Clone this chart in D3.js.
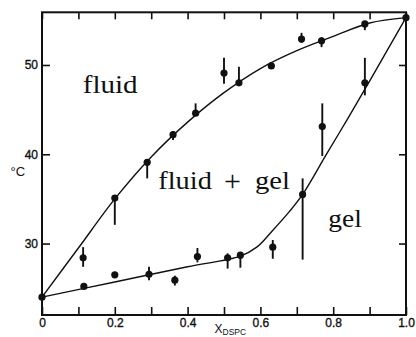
<!DOCTYPE html>
<html>
<head>
<meta charset="utf-8">
<script src="https://cdn.jsdelivr.net/npm/d3@7/dist/d3.min.js"></script>
<style>
  html, body { margin: 0; padding: 0; background: #fff; }
  svg { display: block; }
</style>
</head>
<body>
<script>
// Phase diagram of a binary lipid mixture: temperature vs. mole fraction of DSPC.

// Onset of melting (gel / fluid+gel boundary) measurements
const gelX  = [0.113, 0.115, 0.200, 0.294, 0.365, 0.427, 0.510, 0.545, 0.634, 0.716, 0.770, 0.887];
const gelT  = [28.4, 25.2, 26.5, 26.55, 25.9, 28.55, 28.4, 28.7, 29.6, 35.5, 43.1, 48.0];
const gelLo = [27.4, 25.2, 26.5, 25.9, 25.3, 27.9, 27.2, 27.3, 28.3, 28.2, 39.8, 46.6];
const gelHi = [29.6, 25.2, 26.5, 27.4, 26.4, 29.5, 28.9, 28.9, 30.4, 37.3, 45.7, 50.8];

// Completion of melting (fluid+gel / fluid boundary) measurements
const fluidX  = [0.200, 0.289, 0.360, 0.422, 0.500, 0.541, 0.630, 0.713, 0.768, 0.887];
const fluidT  = [35.1, 39.1, 42.2, 44.6, 49.1, 48.0, 49.9, 52.9, 52.7, 54.6];
const fluidLo = [32.1, 37.3, 41.6, 44.6, 47.9, 48.0, 49.6, 52.5, 52.0, 53.9];
const fluidHi = [35.1, 39.1, 42.6, 45.7, 50.8, 49.8, 50.3, 53.6, 53.1, 54.9];

// Pure-component melting temperatures
const pureX = [0, 1];
const pureT = [24.0, 55.3];

// Fitted phase boundaries
const liquidusX = [0, 0.1, 0.2, 0.3, 0.4, 0.5, 0.6, 0.7, 0.8, 0.9, 1.0];
const liquidusT = [24.0, 29.5, 35.0, 39.7, 43.6, 46.9, 49.6, 51.6, 53.2, 54.7, 55.3];
const solidusX  = [0, 0.2, 0.4, 0.545, 0.59, 0.63, 0.68, 0.716, 0.78, 0.84, 0.90, 1.0];
const solidusT  = [24.0, 25.7, 27.4, 28.6, 29.6, 31.3, 33.6, 35.5, 39.9, 44.0, 48.2, 55.3];

// Axis ticks
const xTicks = [0, 0.1, 0.2, 0.3, 0.4, 0.5, 0.6, 0.7, 0.8, 0.9, 1.0];
const xTickLabels = ["0", "", "0.2", "", "0.4", "", "0.6", "", "0.8", "", "1.0"];
const yTicks = [30, 40, 50];
const yTickLabels = ["30", "40", "50"];

const W = 416, H = 337;
const margin = { left: 42, right: 10, top: 12.3, bottom: 22 };

const x = d3.scaleLinear().domain([0, 1]).range([margin.left, W - margin.right]);
const y = d3.scaleLinear().domain([22, 55.9]).range([H - margin.bottom, margin.top]);

const svg = d3.select("body").append("svg")
  .attr("width", W).attr("height", H)
  .attr("viewBox", `0 0 ${W} ${H}`);

svg.append("rect").attr("width", W).attr("height", H).attr("fill", "#fff");

const ink = "#111";
const tickFont = "'Liberation Sans', Arial, Helvetica, sans-serif";
const serif = "'Liberation Serif', 'Times New Roman', serif";

// Axes with inward ticks on all four sides
function styleAxis(g) {
  g.select(".domain").remove();
  g.selectAll(".tick line").attr("stroke", ink).attr("stroke-width", 1.6);
  g.selectAll(".tick text").attr("fill", ink)
    .attr("stroke", ink).attr("stroke-width", 0.35)
    .attr("font-family", tickFont).attr("font-size", 12);
}

svg.append("g")
  .attr("transform", `translate(0,${y.range()[0]})`)
  .call(d3.axisBottom(x).tickValues(xTicks).tickSize(-8).tickPadding(3)
    .tickFormat((d, i) => xTickLabels[i]))
  .call(styleAxis);

svg.append("g")
  .attr("transform", `translate(0,${y.range()[1]})`)
  .call(d3.axisTop(x).tickValues(xTicks).tickSize(-7).tickFormat(""))
  .call(styleAxis);

svg.append("g")
  .attr("transform", `translate(${x.range()[0]},0)`)
  .call(d3.axisLeft(y).tickValues(yTicks).tickSize(-8).tickPadding(4)
    .tickFormat((d, i) => yTickLabels[i]))
  .call(styleAxis);

svg.append("g")
  .attr("transform", `translate(${x.range()[1]},0)`)
  .call(d3.axisRight(y).tickValues(yTicks).tickSize(-7).tickFormat(""))
  .call(styleAxis);

// Plot frame
svg.append("rect")
  .attr("x", x.range()[0]).attr("y", y.range()[1])
  .attr("width", x.range()[1] - x.range()[0])
  .attr("height", y.range()[0] - y.range()[1])
  .attr("fill", "none").attr("stroke", ink).attr("stroke-width", 2);

// Phase boundary curves
const line = d3.line()
  .x(d => x(d[0])).y(d => y(d[1]))
  .curve(d3.curveCatmullRom.alpha(0.5));

svg.append("path")
  .datum(d3.zip(liquidusX, liquidusT))
  .attr("d", line).attr("fill", "none")
  .attr("stroke", ink).attr("stroke-width", 1.4);

svg.append("path")
  .datum(d3.zip(solidusX, solidusT))
  .attr("d", line).attr("fill", "none")
  .attr("stroke", ink).attr("stroke-width", 1.4);

// Error bars and markers
function drawSeries(xs, ts, lo, hi) {
  const pts = xs.map((v, i) => ({ x: v, t: ts[i], lo: lo[i], hi: hi[i] }));
  svg.append("g").selectAll("line")
    .data(pts.filter(d => d.hi > d.lo))
    .join("line")
    .attr("x1", d => x(d.x)).attr("x2", d => x(d.x))
    .attr("y1", d => y(d.lo)).attr("y2", d => y(d.hi))
    .attr("stroke", ink).attr("stroke-width", 1.9);
  svg.append("g").selectAll("circle")
    .data(pts)
    .join("circle")
    .attr("cx", d => x(d.x)).attr("cy", d => y(d.t))
    .attr("r", 3.6).attr("fill", ink);
}
drawSeries(gelX, gelT, gelLo, gelHi);
drawSeries(fluidX, fluidT, fluidLo, fluidHi);
drawSeries(pureX, pureT, pureT, pureT);

// Phase region labels
function regionLabel(text, px, py, len, size) {
  svg.append("text")
    .attr("x", px).attr("y", py)
    .attr("font-family", serif).attr("font-size", size)
    .attr("fill", ink)
    .attr("textLength", len).attr("lengthAdjust", "spacingAndGlyphs")
    .text(text);
}
regionLabel("fluid", 82.7, 93, 55, 26);
regionLabel("fluid", 158.3, 189, 53.5, 26);
svg.append("text")
  .attr("x", 232.5).attr("y", 191).attr("text-anchor", "middle")
  .attr("font-family", serif).attr("font-size", 30).attr("fill", ink)
  .text("+");
regionLabel("gel", 255, 189, 35, 26);
regionLabel("gel", 328.3, 226.7, 33.5, 26);

// Axis titles
svg.append("text")
  .attr("x", 10.5).attr("y", 175.5)
  .attr("font-family", tickFont).attr("font-size", 13).attr("fill", ink)
  .text("°C");

const xt = svg.append("text")
  .attr("x", 214.5).attr("y", 332.5)
  .attr("font-family", tickFont).attr("font-size", 12).attr("fill", ink);
xt.append("tspan").text("X");
xt.append("tspan").attr("dy", 2.5).attr("font-size", 8.5).text("DSPC");
</script>
</body>
</html>
